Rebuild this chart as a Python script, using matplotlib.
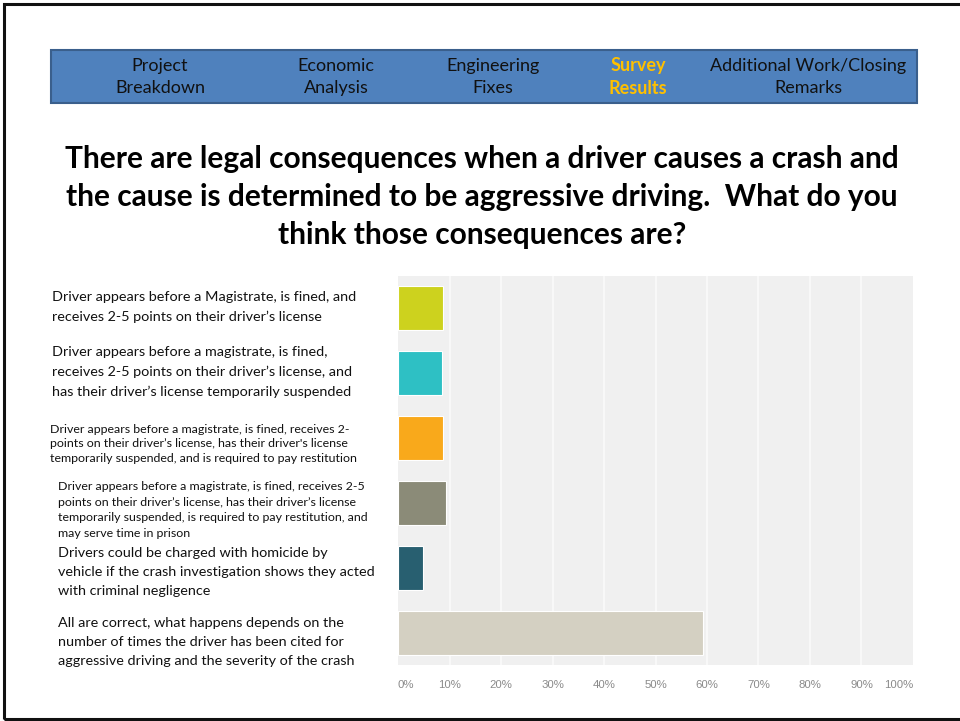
import matplotlib
matplotlib.use("Agg")
import matplotlib.pyplot as plt
import matplotlib.patches as patches
import numpy as np

plt.rcParams['font.family'] = ['Lato', 'DejaVu Sans']

# survey answers (share of respondents, %)
answers = [
    "Driver appears before a Magistrate, is fined, and\nreceives 2-5 points on their driver\u2019s license",
    "Driver appears before a magistrate, is fined,\nreceives 2-5 points on their driver\u2019s license, and\nhas their driver\u2019s license temporarily suspended",
    "Driver appears before a magistrate, is fined, receives 2-\npoints on their driver\u2019s license, has their driver's license\ntemporarily suspended, and is required to pay restitution",
    "Driver appears before a magistrate, is fined, receives 2-5\npoints on their driver\u2019s license, has their driver\u2019s license\ntemporarily suspended, is required to pay restitution, and\nmay serve time in prison",
    "Drivers could be charged with homicide by\nvehicle if the crash investigation shows they acted\nwith criminal negligence",
    "All are correct, what happens depends on the\nnumber of times the driver has been cited for\naggressive driving and the severity of the crash",
]
shares = [8.7, 8.5, 8.7, 9.3, 4.9, 59.2]
bar_colors = ['#cdd21e', '#2ec0c4', '#f9a91b', '#8b8b78', '#285f70', '#d4d0c2']
tick_vals = [0, 10, 20, 30, 40, 50, 60, 70, 80, 90, 100]

nav_items = ["Project\nBreakdown", "Economic\nAnalysis", "Engineering\nFixes",
             "Survey\nResults", "Additional Work/Closing\nRemarks"]
nav_active = 3

title = ("There are legal consequences when a driver causes a crash and\n"
         "the cause is determined to be aggressive driving.  What do you\n"
         "think those consequences are?")

W, H = 960, 721
fig = plt.figure(figsize=(W / 100, H / 100), dpi=100)
fig.patch.set_facecolor('white')


def fx(px):
    return px / W


def fy(py):
    return 1 - py / H


# slide frame
fig.patches.append(patches.Rectangle((fx(4), fy(719)), fx(980) - fx(4), fy(4) - fy(719),
                                     transform=fig.transFigure, fill=False,
                                     edgecolor='#111111', linewidth=2.2))

# navigation band
fig.patches.append(patches.Rectangle((fx(51), fy(103)), fx(917) - fx(51), fy(50) - fy(103),
                                     transform=fig.transFigure, facecolor='#4f81bd',
                                     edgecolor='#3a5f8c', linewidth=1.5))
nav_x = [160, 336, 493, 638, 808]
for i, (label, x) in enumerate(zip(nav_items, nav_x)):
    active = i == nav_active
    fig.text(fx(x), fy(77), label, ha='center', va='center', fontsize=13,
             color='#ffc000' if active else '#111111',
             fontweight='bold' if active else 'normal', linespacing=1.45)

fig.text(fx(482), fy(197), title, ha='center', va='center', fontsize=21.5,
         fontweight='bold', linespacing=1.43)

# answer texts on the left: x, y centre, font size, line spacing
label_pos = [(52, 307, 10.4, 1.7), (52, 372, 10.4, 1.7), (50, 444, 8.9, 1.4),
             (58, 510, 8.9, 1.55), (58, 572, 10.4, 1.7), (58, 642, 10.4, 1.7)]
for text, (x, y, size, ls) in zip(answers, label_pos):
    fig.text(fx(x), fy(y), text, ha='left', va='center', fontsize=size,
             linespacing=ls, color='#111111')

# bar chart
ax = fig.add_axes([fx(398), fy(665), fx(913) - fx(398), fy(276) - fy(665)])
ax.set_facecolor('#f0f0f0')
ypos = np.arange(len(shares))
ax.barh(ypos, shares, height=0.68, color=bar_colors, edgecolor='white', linewidth=0.8, zorder=3)
ax.set_xlim(0, 100)
ax.set_ylim(len(shares) - 0.5, -0.5)
for v in tick_vals[1:-1]:
    ax.axvline(v, color='#fafafa', linewidth=1.2, zorder=1)
for s in ax.spines.values():
    s.set_visible(False)
ax.set_yticks([])
ax.set_xticks(tick_vals)
ax.set_xticklabels([f"{v}%" for v in tick_vals], fontsize=8.2, color='#8a8a8a',
                   family=['Liberation Sans', 'DejaVu Sans'])
ax.tick_params(axis='x', length=0, pad=11)
xt = ax.get_xticklabels()
xt[0].set_ha('left')
xt[-1].set_ha('right')

fig.savefig("out.png", dpi=100)
